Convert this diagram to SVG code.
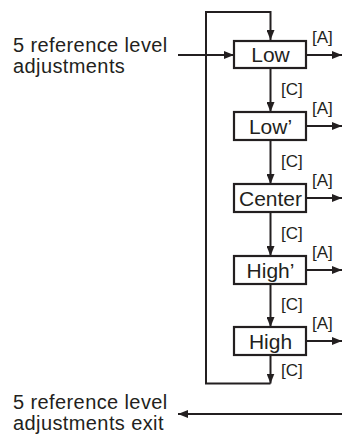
<svg xmlns="http://www.w3.org/2000/svg" width="342" height="434" viewBox="0 0 342 434">
<defs>
<style>
text{font-family:"Liberation Sans",Arial,sans-serif;fill:#231f20}
.big{font-size:20px;letter-spacing:0.4px}
.lbl{font-size:21px;text-anchor:middle}
.sm{font-size:17px}
.box{fill:#fff;stroke:#231f20;stroke-width:2.2}
.ln{fill:none;stroke:#231f20;stroke-width:2}
</style>
<marker id="ah" viewBox="0 0 10 8" refX="10" refY="4" markerWidth="10" markerHeight="8" markerUnits="userSpaceOnUse" orient="auto">
<path d="M0,0 L10,4 L0,8 z" fill="#231f20"/>
</marker>
</defs>
<g id="connectors">
<path class="ln" d="M270.5,383.5 H206 V12 H270.5 V40" marker-end="url(#ah)"/>
<line class="ln" x1="178" y1="55" x2="234" y2="55" marker-end="url(#ah)"/>
<line class="ln" x1="270.5" y1="68" x2="270.5" y2="112" marker-end="url(#ah)"/>
<line class="ln" x1="270.5" y1="140" x2="270.5" y2="184" marker-end="url(#ah)"/>
<line class="ln" x1="270.5" y1="212" x2="270.5" y2="256" marker-end="url(#ah)"/>
<line class="ln" x1="270.5" y1="284" x2="270.5" y2="327" marker-end="url(#ah)"/>
<line class="ln" x1="270.5" y1="355" x2="270.5" y2="383.5" marker-end="url(#ah)"/>
<line class="ln" x1="306" y1="55" x2="342" y2="55" marker-end="url(#ah)"/>
<line class="ln" x1="306" y1="126" x2="342" y2="126" marker-end="url(#ah)"/>
<line class="ln" x1="306" y1="198" x2="342" y2="198" marker-end="url(#ah)"/>
<line class="ln" x1="306" y1="270" x2="342" y2="270" marker-end="url(#ah)"/>
<line class="ln" x1="306" y1="341" x2="342" y2="341" marker-end="url(#ah)"/>
<line class="ln" x1="342" y1="414" x2="178" y2="414" marker-end="url(#ah)"/>
<text class="sm" x="281" y="94.5">[C]</text>
<text class="sm" x="281" y="166.5">[C]</text>
<text class="sm" x="281" y="238.5">[C]</text>
<text class="sm" x="281" y="310">[C]</text>
<text class="sm" x="281" y="375.5">[C]</text>
<text class="sm" x="312" y="42.5">[A]</text>
<text class="sm" x="312" y="114">[A]</text>
<text class="sm" x="312" y="186">[A]</text>
<text class="sm" x="312" y="258">[A]</text>
<text class="sm" x="312" y="329">[A]</text>
</g>
<g id="input">
<text class="big" x="13" y="52">5 reference level</text>
<text class="big" x="13" y="73">adjustments</text>
</g>
<g id="exit">
<text class="big" x="13" y="408.5">5 reference level</text>
<text class="big" x="13" y="429.5">adjustments exit</text>
</g>
<g id="low">
<rect class="box" x="234" y="41" width="72" height="27"/>
<text class="lbl" x="270.5" y="62">Low</text>
</g>
<g id="low-prime">
<rect class="box" x="234" y="112" width="72" height="28"/>
<text class="lbl" x="270.5" y="133.5">Low’</text>
</g>
<g id="center">
<rect class="box" x="234" y="184" width="72" height="28"/>
<text class="lbl" x="270.5" y="205.5">Center</text>
</g>
<g id="high-prime">
<rect class="box" x="234" y="256" width="72" height="28"/>
<text class="lbl" x="270.5" y="277.5">High’</text>
</g>
<g id="high">
<rect class="box" x="234" y="327" width="72" height="28"/>
<text class="lbl" x="270.5" y="348.5">High</text>
</g>
</svg>
